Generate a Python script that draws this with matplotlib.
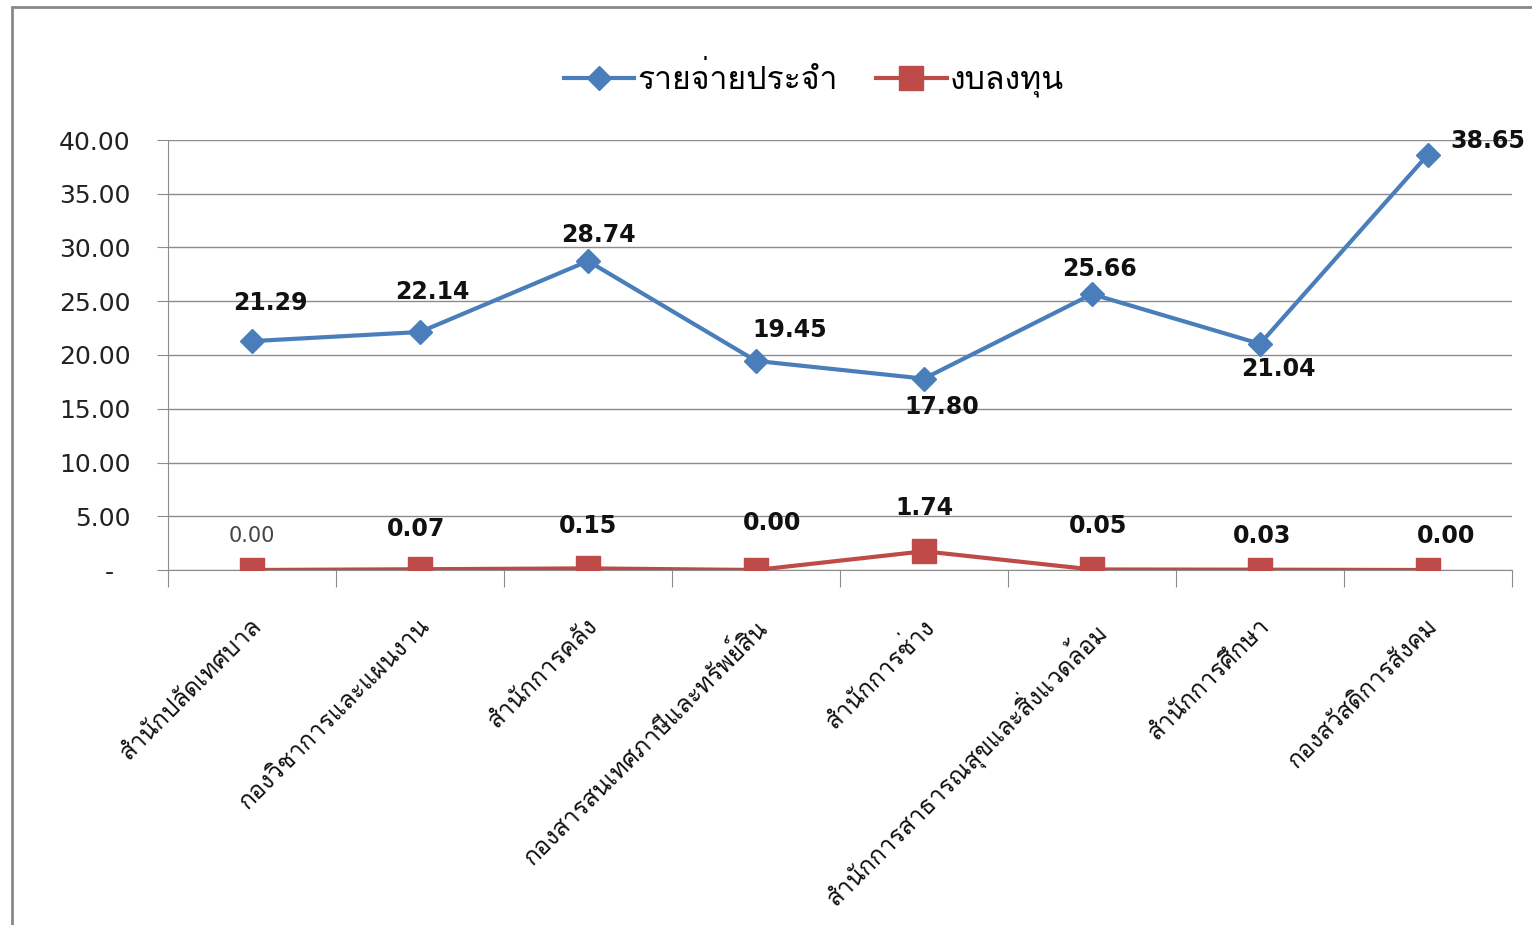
import matplotlib
matplotlib.use("Agg")
import matplotlib.pyplot as plt
from matplotlib.patches import Rectangle
from matplotlib.ticker import FixedLocator, FuncFormatter
from matplotlib.font_manager import FontProperties

categories = ["สำนักปลัดเทศบาล", "กองวิชาการและแผนงาน", "สำนักการคลัง",
              "กองสารสนเทศภาษีและทรัพย์สิน", "สำนักการช่าง",
              "สำนักการสาธารณสุขและสิ่งแวดล้อม", "สำนักการศึกษา", "กองสวัสดิการสังคม"]
series_names = ["รายจ่ายประจำ", "งบลงทุน"]
regular = [21.29, 22.14, 28.74, 19.45, 17.80, 25.66, 21.04, 38.65]
invest = [0.00, 0.07, 0.15, 0.00, 1.74, 0.05, 0.03, 0.00]
yticks = [0, 5, 10, 15, 20, 25, 30, 35, 40]

plt.rcParams["font.family"] = ["DejaVu Sans"]
THAI = ["Loma", "DejaVu Sans"]

W, H = 1532, 925
fig = plt.figure(figsize=(W / 100, H / 100), dpi=100)
ax = fig.add_axes([168 / W, 1 - 570 / H, (1512 - 168) / W, (570 - 140) / H])

blue = "#4A7EBB"
red = "#BE4B48"
x = list(range(1, len(categories) + 1))
ax.plot(x, regular, color=blue, lw=3, marker="D", ms=12, label=series_names[0], zorder=3)
ax.plot(x, invest, color=red, lw=3, marker="s", ms=17, label=series_names[1], zorder=3)

ax.set_xlim(0.5, len(categories) + 0.5)
ax.set_ylim(0, 40)
ax.yaxis.set_major_locator(FixedLocator(yticks))
ax.yaxis.set_major_formatter(FuncFormatter(lambda v, p: "-  " if v == 0 else f"{v:.2f}"))
ax.grid(axis="y", color="#8c8c8c", lw=1)
ax.set_axisbelow(True)
for s in ["top", "right"]:
    ax.spines[s].set_visible(False)
for s in ["left", "bottom"]:
    ax.spines[s].set_color("#8c8c8c")
ax.tick_params(axis="y", length=8, color="#8c8c8c", labelsize=18, labelcolor="#222222", pad=19)
ax.set_xticks([i + 0.5 for i in range(0, len(categories) + 1)])
ax.set_xticklabels([])
ax.tick_params(axis="x", length=12, color="#8c8c8c")

for xi, lab in zip(x, categories):
    ax.annotate(lab, (xi, 0), xytext=(-2, -44), textcoords="offset pixels",
                rotation=45, rotation_mode="anchor", ha="right", va="top",
                fontsize=17.5, color="#111111", family=THAI)

reg_off = [(18, 38), (12, 40), (10, 26), (34, 31), (18, -28), (8, 25), (18, -25), (60, 14)]
for xi, v, (dx, dy) in zip(x, regular, reg_off):
    ax.annotate(f"{v:.2f}", (xi, v), xytext=(dx, dy), textcoords="offset pixels",
                ha="center", va="center", fontsize=17, fontweight="bold", color="#111111")

inv_off = [(0, 34), (-4, 40), (0, 42), (16, 47), (0, 43), (6, 43), (2, 34), (18, 34)]
inv_style = [("normal", "#444444", 15)] + [("bold", "#111111", 17)] * 7
for xi, v, (dx, dy), (fw, c, fs) in zip(x, invest, inv_off, inv_style):
    ax.annotate(f"{v:.2f}", (xi, v), xytext=(dx, dy), textcoords="offset pixels",
                ha="center", va="center", fontsize=fs, fontweight=fw, color=c)

fig.legend(loc="center", bbox_to_anchor=(814 / W, 1 - 80 / H), ncol=2, frameon=False,
           prop=FontProperties(family=THAI, size=23), handlelength=2.2,
           handletextpad=0.1, columnspacing=1.2)

fig.patches.append(Rectangle((12 / W, -0.1), 1.2, 1.1 - 7 / H, transform=fig.transFigure,
                             fill=False, edgecolor="#888888", lw=2))

fig.savefig("out.png", dpi=100)
